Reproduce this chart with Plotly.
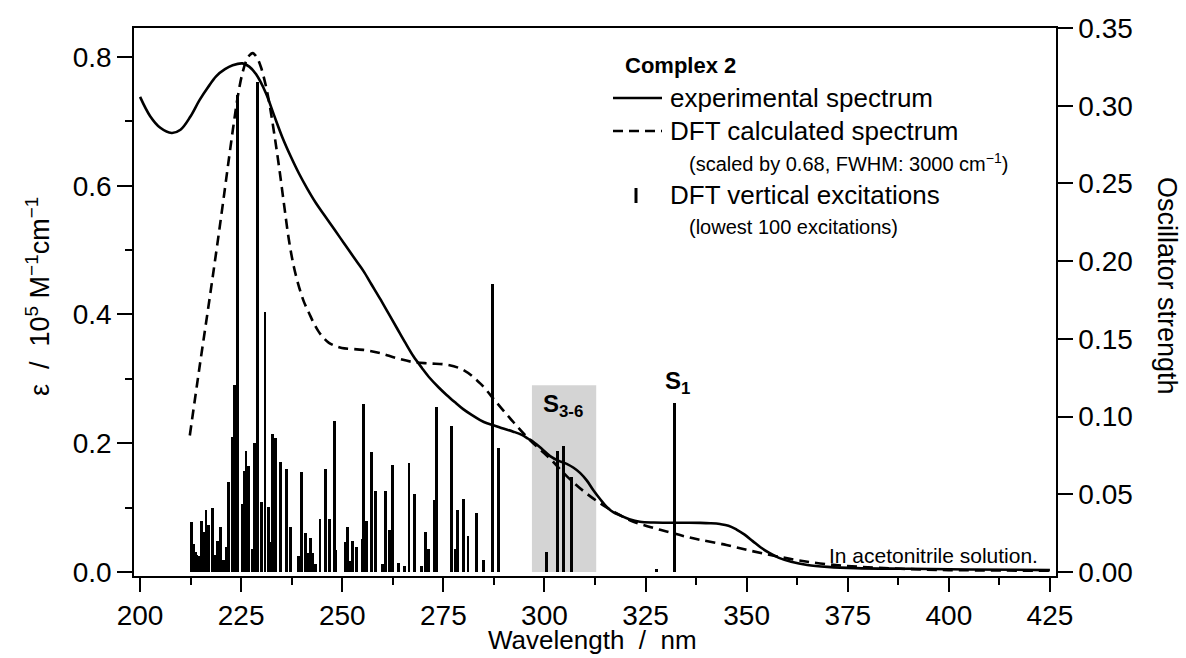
import plotly.graph_objects as go

# ---------------- data ----------------
exp_nm = [200, 202.5, 205, 207.8, 210, 212.5, 214.7, 216.8, 218.8, 221, 222.9, 225.3, 227,
          228.7, 231.1, 233.1, 235.2, 237.3, 239.3, 241.3, 243.4, 245.5, 247.5, 249.5, 251.6,
          253.5, 255.3, 257.2, 259.3, 261.4, 263.5, 265.5, 267.6, 269.7, 271.7, 273.8, 275.8,
          277.8, 279.9, 282.0, 284.1, 285.8, 287.4, 289.8, 292.3, 294.4, 296.0, 297.3, 299.4,
          301.4, 303.4, 305.5, 307.2, 308.8, 310.5, 312.1, 313.8, 315.4, 317.0, 318.7, 321.0,
          323.6, 327.0, 330.2, 335.0, 338.5, 341.0, 343.4, 345.5, 347.5, 349.5, 351.5, 353.5,
          355.5, 358.0, 361.0, 365.0, 370.0, 377.0, 390.0, 405.0, 425.0]
exp_eps = [0.738, 0.708, 0.690, 0.682, 0.687, 0.708, 0.733, 0.753, 0.770, 0.781, 0.787, 0.790, 0.785,
           0.773, 0.744, 0.710, 0.675, 0.645, 0.619, 0.596, 0.574, 0.555, 0.537, 0.519, 0.500,
           0.483, 0.467, 0.447, 0.425, 0.402, 0.379, 0.357, 0.335, 0.317, 0.301, 0.287, 0.275,
           0.264, 0.253, 0.244, 0.236, 0.231, 0.228, 0.223, 0.218, 0.213, 0.207, 0.202, 0.191,
           0.180, 0.173, 0.168, 0.162, 0.154, 0.142, 0.127, 0.113, 0.101, 0.093, 0.088, 0.082,
           0.078, 0.0768, 0.0766, 0.0765, 0.0763, 0.0757, 0.0745, 0.072, 0.066, 0.058, 0.048, 0.038,
           0.030, 0.022, 0.016, 0.011, 0.008, 0.006, 0.005, 0.004, 0.003]

dft_nm = [212.3, 214.7, 217.2, 219.7, 222.1, 223.2, 224.2, 225.2, 226.2, 227.1, 227.9, 228.9,
          229.9, 231.0, 232.0, 233.2, 234.4, 235.6, 236.8, 238.0, 239.3, 240.5, 241.8, 243.0,
          244.2, 245.5, 246.7, 248.3, 249.9, 255.2, 259.3, 263.5, 267.6, 271.7, 275.8, 279.9,
          284.1, 288.2, 292.3, 296.4, 301.4, 305.5, 309.6, 313.7, 317.9, 322.0, 326.1, 330.2,
          334.3, 338.5, 345, 351, 357, 363, 370, 378, 388, 400, 425]
dft_eps = [0.212, 0.318, 0.425, 0.536, 0.648, 0.698, 0.740, 0.772, 0.793, 0.803, 0.806, 0.799,
           0.784, 0.758, 0.727, 0.680, 0.628, 0.571, 0.516, 0.475, 0.443, 0.420, 0.402, 0.386,
           0.373, 0.363, 0.356, 0.351, 0.348, 0.345, 0.340, 0.332, 0.326, 0.324, 0.322, 0.314,
           0.293, 0.263, 0.233, 0.205, 0.176, 0.149, 0.126, 0.107, 0.091, 0.078, 0.070, 0.063,
           0.056, 0.050, 0.042, 0.033, 0.025, 0.018, 0.012, 0.008, 0.005, 0.003, 0.002]

exc_nm = [212.7, 213.2, 213.6, 214.0, 214.4, 215.1, 215.7, 216.3, 216.9, 217.9, 218.5, 219.1,
          220.0, 220.6, 221.3, 221.9, 222.8, 223.3, 224.0, 225.2, 225.8, 226.2, 226.8, 227.8,
          228.4, 229.0, 230.1, 230.9, 231.7, 232.2, 232.8, 233.4, 234.8, 236.3, 237.1, 239.1,
          239.9, 240.8, 241.3, 242.1, 242.7, 243.3, 244.5, 245.8, 246.9, 248.0, 248.4, 250.8,
          251.4, 252.0, 252.6, 253.5, 254.9, 255.3, 255.9, 257.2, 258.2, 259.9, 260.7, 261.7,
          262.4, 263.9, 265.4, 266.5, 267.9, 269.7, 270.6, 271.4, 272.8, 273.4, 277.1, 278.0,
          278.6, 280.0, 281.1, 283.1, 285.0, 287.1, 288.7, 300.6, 303.3, 304.7, 306.7, 327.7,
          332.2]
exc_f = [0.032, 0.018, 0.013, 0.011, 0.010, 0.033, 0.026, 0.040, 0.030, 0.041, 0.011, 0.020,
         0.029, 0.008, 0.016, 0.058, 0.087, 0.120, 0.307, 0.044, 0.065, 0.078, 0.068, 0.015,
         0.083, 0.315, 0.045, 0.167, 0.042, 0.019, 0.089, 0.086, 0.071, 0.066, 0.029, 0.010,
         0.064, 0.025, 0.012, 0.022, 0.012, 0.005, 0.034, 0.066, 0.034, 0.097, 0.014, 0.019,
         0.029, 0.007, 0.020, 0.016, 0.021, 0.108, 0.033, 0.077, 0.052, 0.005, 0.052, 0.027,
         0.069, 0.006, 0.004, 0.070, 0.050, 0.004, 0.026, 0.015, 0.046, 0.106, 0.094, 0.015,
         0.040, 0.047, 0.023, 0.038, 0.008, 0.185, 0.080, 0.013, 0.078, 0.081, 0.061, 0.002,
         0.109]

x_ticks = [200, 225, 250, 275, 300, 325, 350, 375, 400, 425]
band_nm = [296.9, 312.8]
band_top = 0.290

# ---------------- layout helpers ----------------
W, H = 1186, 658
L, R, T, B = 134, 130, 28, 82
PW, PH = W - L - R, H - T - B


def px(xp):
    return (xp - L) / PW


def py(yp):
    return (H - B - yp) / PH


FONT = "Liberation Sans, Arial, Helvetica, sans-serif"

fig = go.Figure()
fig.add_trace(go.Bar(x=exc_nm, y=exc_f, yaxis="y2", width=0.72,
                     marker=dict(color="black", line=dict(width=0)), showlegend=False))
fig.add_trace(go.Scatter(x=dft_nm, y=dft_eps, mode="lines",
                         line=dict(color="black", width=2.6, dash="10px,6px", shape="spline", smoothing=1.0),
                         showlegend=False))
fig.add_trace(go.Scatter(x=exp_nm, y=exp_eps, mode="lines",
                         line=dict(color="black", width=2.6, shape="spline", smoothing=1.0),
                         showlegend=False))

shapes = [
    dict(type="rect", xref="x", yref="y", x0=band_nm[0], x1=band_nm[1], y0=0, y1=band_top,
         fillcolor="#d4d4d4", line=dict(width=0), layer="below"),
    # legend samples
    dict(type="line", xref="paper", yref="paper", x0=px(613), x1=px(662), y0=py(98), y1=py(98),
         line=dict(color="black", width=2.6)),
    dict(type="line", xref="paper", yref="paper", x0=px(613), x1=px(662), y0=py(131), y1=py(131),
         line=dict(color="black", width=2.6, dash="10px,6px")),
    dict(type="line", xref="paper", yref="paper", x0=px(636), x1=px(636), y0=py(188), y1=py(203),
         line=dict(color="black", width=3)),
]

ann = []


def text(xp, yp, s, size, anchor="left", angle=0, yanchor="middle"):
    ann.append(dict(x=px(xp), y=py(yp), xref="paper", yref="paper", text=s, showarrow=False,
                    xanchor=anchor, yanchor=yanchor, textangle=angle,
                    font=dict(family=FONT, size=size, color="black")))


text(623, 65, "<b>Complex 2</b>", 22)
text(668, 98, "experimental spectrum", 26)
text(668, 131, "DFT calculated spectrum", 26)
text(687, 163, "(scaled by 0.68, FWHM: 3000 cm<sup>−1</sup>)", 20)
text(668, 195, "DFT vertical excitations", 26)
text(687, 227, "(lowest 100 excitations)", 20)
text(1040, 555, "In acetonitrile solution.", 21, anchor="right")
text(563, 405, "<b>S<sub>3-6</sub></b>", 24, anchor="center")
text(677, 382, "<b>S<sub>1</sub></b>", 24, anchor="center")
# axis titles
text(592, 640, "Wavelength  /  nm", 26, anchor="center")
text(38, 297, "ε  /  10<sup>5</sup> M<sup>−1</sup>cm<sup>−1</sup>", 27, anchor="center", angle=-90)
text(1167, 286, "Oscillator strength", 27, anchor="center", angle=90)

axis_common = dict(showgrid=False, zeroline=False, showline=True, linecolor="black", linewidth=1.5,
                   ticks="outside", tickcolor="black", tickwidth=1.5,
                   tickfont=dict(family=FONT, size=28, color="black"))

fig.update_layout(
    width=W, height=H, margin=dict(l=L, r=R, t=T, b=B),
    paper_bgcolor="white", plot_bgcolor="white", showlegend=False,
    xaxis=dict(range=[198.5, 426.5], tickmode="array", tickvals=x_ticks, ticklen=14,
               mirror=True,
               minor=dict(dtick=12.5, tick0=200, ticks="outside", ticklen=7, tickwidth=1.5, tickcolor="black"),
               **axis_common),
    yaxis=dict(range=[-0.0062, 0.845], dtick=0.2, tick0=0, tickformat=".1f", ticklen=15,
               minor=dict(dtick=0.1, tick0=0, ticks="outside", ticklen=7, tickwidth=1.5, tickcolor="black"),
               **axis_common),
    yaxis2=dict(range=[-0.0026, 0.35], dtick=0.05, tick0=0, tickformat=".2f", ticklen=15,
                overlaying="y", side="right", **axis_common),
    shapes=shapes, annotations=ann, bargap=0,
)

fig.write_html("out.html")
